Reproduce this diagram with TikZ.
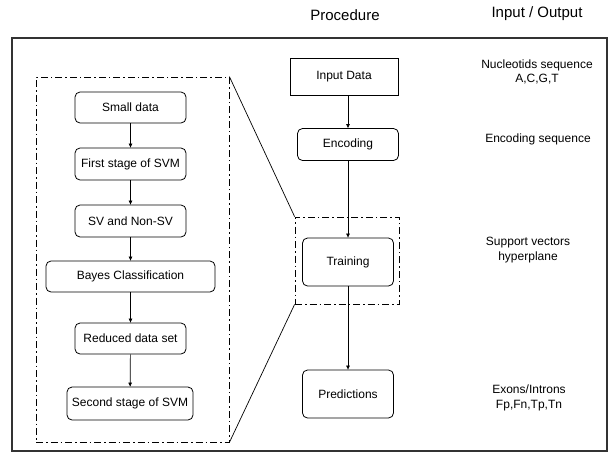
\documentclass[tikz,border=0pt]{standalone}
\usepackage{fontspec}
\setmainfont{Liberation Sans}
\usetikzlibrary{arrows.meta,positioning}

\begin{document}
\begin{tikzpicture}[
    x=1pt, y=-1pt,
    box/.style={rectangle, draw, line width=0.8pt, align=center, inner sep=2pt, font=\fontsize{12}{14}\selectfont},
    rbox/.style={box, rounded corners=5pt},
    zoombox/.style={rectangle, draw, line width=0.8pt, dash pattern=on 7pt off 3pt on 1.5pt off 3pt},
    arrow/.style={-{Triangle[length=4pt, width=3.5pt]}, line width=0.7pt},
    label/.style={align=center, font=\fontsize{12}{14.5}\selectfont},
    head/.style={font=\fontsize{15}{17}\selectfont}
]
\useasboundingbox (0,0) rectangle (610,453);

% Outer frame
\draw[line width=1.2pt, black!80] (12,38) rectangle (607,451);

% Column headings
\node[head] (hproc) at (345,15) {Procedure};
\node[head] (hio) at (537,14) {Input / Output};

% Procedure (middle column)
\node[box, minimum width=108pt, minimum height=37pt] (input) at (344,76.5) {Input Data};
\node[rbox, minimum width=101pt, minimum height=32pt] (encode) at (348,144.5) {Encoding};
\node[zoombox, minimum width=104pt, minimum height=87pt] (zoomR) at (347,260.5) {};
\node[rbox, minimum width=91pt, minimum height=48pt] (train) at (348,262) {Training};
\node[rbox, minimum width=91pt, minimum height=48pt] (predict) at (348,394) {Predictions};

\draw[arrow] (input.south -| encode.north) -- (encode);
\draw[arrow] (encode) -- (train);
\draw[arrow] (train) -- (predict);

% Input / Output (right column)
\node[label] (ioin) at (537,72) {Nucleotids sequence\\A,C,G,T};
\node[label] (ioenc) at (538,139) {Encoding sequence};
\node[label] (iotrain) at (528,250) {Support vectors\\hyperplane};
\node[label] (iopred) at (529,398) {Exons/Introns\\Fp,Fn,Tp,Tn};

% Training detail (left)
\node[zoombox, minimum width=193pt, minimum height=365pt] (zoomL) at (132.5,259.5) {};
\node[rbox, minimum width=111pt, minimum height=31pt] (small) at (130.5,107.5) {Small data};
\node[rbox, minimum width=111pt, minimum height=32pt] (first) at (130.5,164) {First stage of SVM};
\node[rbox, minimum width=111pt, minimum height=32pt] (svns) at (130.5,221) {SV and Non-SV};
\node[rbox, minimum width=169pt, minimum height=31pt] (bayes) at (130.5,276.5) {Bayes Classification};
\node[rbox, minimum width=111pt, minimum height=31pt] (reduced) at (130.5,338.5) {Reduced data set};
\node[rbox, minimum width=126pt, minimum height=33pt] (second) at (130,403.5) {Second stage of SVM};

\draw[arrow] (small) -- (first);
\draw[arrow] (first) -- (svns);
\draw[arrow] (svns) -- (bayes);
\draw[arrow] (bayes) -- (reduced);
\draw[arrow] (reduced) -- (second);

% Zoom lines
\draw[line width=0.7pt] (zoomL.north east) -- (zoomR.north west);
\draw[line width=0.7pt] (zoomL.south east) -- (zoomR.south west);
\end{tikzpicture}
\end{document}
